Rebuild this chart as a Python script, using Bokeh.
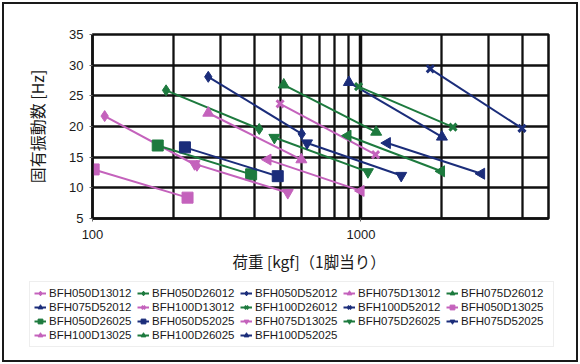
import numpy as np
from bokeh.plotting import figure
from bokeh.layouts import column
from bokeh.models import (Legend, LegendItem, FixedTicker, ColumnDataSource,
                          PrintfTickFormatter, Title)
from bokeh.embed import file_html
from bokeh.resources import INLINE

# ---- data ----
names = ["BFH050D13012", "BFH050D26012", "BFH050D52012", "BFH075D13012", "BFH075D26012",
         "BFH075D52012", "BFH100D13012", "BFH100D26012", "BFH100D52012", "BFH050D13025",
         "BFH050D26025", "BFH050D52025", "BFH075D13025", "BFH075D26025", "BFH075D52025",
         "BFH100D13025", "BFH100D26025", "BFH100D52025"]
load_lo = [111, 188, 270, 270, 516, 902, 500, 980, 1814, 101,
           175, 221, 240, 476, 630, 450, 894, 1253]
load_hi = [245, 418, 602, 600, 1140, 2004, 1134, 2203, 3982, 226,
           390, 490, 534, 1062, 1413, 1000, 1994, 2813]
freq_lo = [21.7, 25.9, 28.1, 22.2, 26.8, 27.2, 23.7, 26.5, 29.4, 13.0,
           16.9, 16.6, 13.9, 18.2, 17.3, 14.6, 18.5, 17.3]
freq_hi = [13.6, 19.6, 18.8, 14.6, 19.1, 18.3, 15.4, 19.9, 19.7, 8.4,
           12.2, 11.9, 9.2, 12.6, 12.0, 9.5, 12.7, 12.3]
x_major_ticks = [100, 1000]
x_minor_ticks = [200, 300, 400, 500, 600, 700, 800, 900, 2000, 3000, 4000]
y_ticks = [5, 10, 15, 20, 25, 30, 35]
x_title = "荷重 [kgf]（1脚当り）"
y_title = "固有振動数 [Hz]"

# ---- styles ----
MAG, GRN, NAV = "#c462bc", "#1d7a3e", "#1b2d7a"
color_by_group = {"13": MAG, "26": GRN, "52": NAV}
marker_by_kind = {
    ("050", "12"): ("diamond", 0.0),
    ("075", "12"): ("triangle", 0.0),
    ("100", "12"): ("x", 0.0),
    ("050", "25"): ("square", 0.0),
    ("075", "25"): ("inverted_triangle", 0.0),
    ("100", "25"): ("triangle", np.pi / 2),
}

FONT = "Liberation Sans"
CJK = "Noto Sans CJK JP"
INK = "#111111"
TOP_H = 278
LEG_H = 364 - TOP_H

p = figure(width=580, height=TOP_H, x_axis_type="log", x_range=(100, 5000), y_range=(5, 35),
           output_backend="svg", toolbar_location=None,
           min_border_left=92, min_border_right=32, min_border_top=34, min_border_bottom=60)
p.background_fill_color = "white"
p.border_fill_alpha = 0
p.outline_line_color = INK
p.outline_line_width = 2.5

# grid
p.xaxis.ticker = FixedTicker(ticks=x_major_ticks, minor_ticks=x_minor_ticks)
p.xaxis.formatter = PrintfTickFormatter(format="%d")
p.xgrid.grid_line_color = INK
p.xgrid.grid_line_width = 3.5
p.xgrid.minor_grid_line_color = INK
p.xgrid.minor_grid_line_width = 2.3
p.yaxis.ticker = y_ticks
p.ygrid.grid_line_color = INK
p.ygrid.grid_line_width = 2.6

for ax in (p.xaxis, p.yaxis):
    ax.axis_line_color = INK
    ax.axis_line_width = 2.5
    ax.major_tick_line_color = "#666666"
    ax.major_tick_out = 3
    ax.major_tick_in = 0
    ax.minor_tick_line_color = None
    ax.major_label_text_font = FONT
    ax.major_label_text_font_size = "13px"
    ax.major_label_text_color = "#1a1a1a"

p.xaxis.major_label_standoff = 7
p.yaxis.major_label_standoff = 6

p.yaxis.axis_label = y_title
p.yaxis.axis_label_text_font = CJK
p.yaxis.axis_label_text_font_size = "16px"
p.yaxis.axis_label_text_font_style = "normal"
p.yaxis.axis_label_text_color = "#1a1a1a"
p.yaxis.axis_label_standoff = 17

# x-axis title, placed left of centre as in the reference
p.add_layout(Title(text=x_title, align="left", offset=140, standoff=12,
                   text_font=CJK, text_font_size="15.5px", text_font_style="normal",
                   text_color="#1a1a1a"), "below")

# legend-only figure below the chart (its frame spans the full width)
q = figure(width=580, height=LEG_H, x_range=(0, 1), y_range=(0, 1),
           output_backend="svg", toolbar_location=None,
           min_border_left=0, min_border_right=0, min_border_top=0, min_border_bottom=0,
           x_axis_location=None, y_axis_location=None)
q.grid.visible = False
q.outline_line_color = None
q.background_fill_alpha = 0
q.border_fill_alpha = 0

items = []
for i, nm in enumerate(names):
    size_code = nm[3:6]
    grp = nm[7:9]
    kind = nm[10:12]
    col = color_by_group[grp]
    mk, ang = marker_by_kind[(size_code, kind)]
    src = ColumnDataSource(dict(x=[load_lo[i], load_hi[i]], y=[freq_lo[i], freq_hi[i]]))
    p.line("x", "y", source=src, line_color=col, line_width=2)
    if mk == "x":
        p.scatter("x", "y", source=src, marker=mk, size=10, line_color=col, line_width=3)
    else:
        p.scatter("x", "y", source=src, marker=mk, size=11, angle=ang,
                  fill_color=col, line_color=col)
    # legend proxies in the legend figure (same data, outside its visible range)
    ln = q.line("x", "y", source=src, line_color=col, line_width=2)
    if mk == "x":
        sc = q.scatter("x", "y", source=src, marker=mk, size=9, line_color=col, line_width=2)
    else:
        sc = q.scatter("x", "y", source=src, marker=mk, size=11, angle=ang,
                       fill_color=col, line_color=col)
    items.append(LegendItem(label=nm, renderers=[ln, sc]))

legend = Legend(items=items, location=(29, 17), orientation="horizontal", ncols=5,
                label_text_font=FONT, label_text_font_size="11.5px", label_text_color="#1a1a1a",
                glyph_width=12, glyph_height=14, label_standoff=3, spacing=0,
                label_width=88, label_height=14, padding=4, margin=0,
                border_line_color="#dddddd", border_line_width=1,
                background_fill_color="white", background_fill_alpha=1)
q.add_layout(legend, "center")

layout = column(column(p), column(q), spacing=0,
                styles={"outline": "2.5px solid #1a1a1a", "outline-offset": "-4.5px"})

open("out.html", "w").write(file_html(layout, INLINE))
